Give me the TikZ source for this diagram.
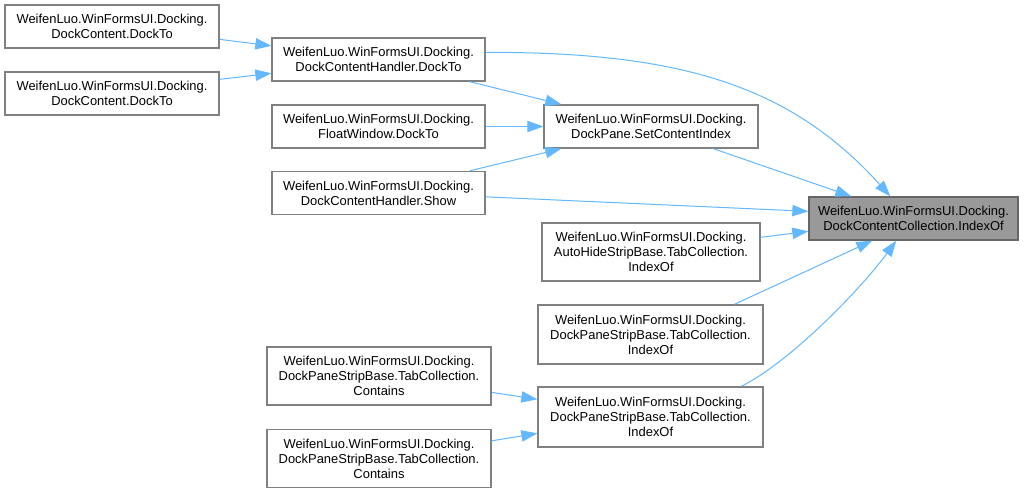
\documentclass[tikz,border=0pt]{standalone}
\usepackage{fontspec}
\setmainfont{Liberation Sans}
\usetikzlibrary{arrows.meta,calc}
\definecolor{edgeblue}{HTML}{63B8FF}
\definecolor{boxline}{HTML}{808080}
\definecolor{hitfill}{HTML}{999999}
\definecolor{hitline}{HTML}{666666}
\begin{document}
\begin{tikzpicture}[x=0.75pt,y=-0.75pt,
  fn/.style={draw=boxline, line width=1pt, fill=white, align=center,
    inner sep=0pt, text=black, font=\fontsize{9.7}{11.25}\selectfont},
  hit/.style={fn, fill=hitfill, draw=hitline},
  call/.style={draw=edgeblue, line width=0.75pt,
    -{Triangle[length=12pt,width=8.5pt]}}
]
% canvas
\fill[white] (0,0) rectangle (1030,493);
\useasboundingbox (0,0) rectangle (1030,493);

% callers, leftmost column
\node[fn, minimum width=160.5pt, minimum height=32.25pt] (A1) at (112,26.5)
  {WeifenLuo.WinFormsUI.Docking.\\DockContent.DockTo};
\node[fn, minimum width=160.5pt, minimum height=32.25pt] (A2) at (112,93.5)
  {WeifenLuo.WinFormsUI.Docking.\\DockContent.DockTo};
\node[fn, minimum width=168pt, minimum height=43.5pt] (D1) at (379,376)
  {WeifenLuo.WinFormsUI.Docking.\\DockPaneStripBase.TabCollection.\\Contains};
\node[fn, minimum width=168pt, minimum height=43.5pt] (D2) at (379,458.5)
  {WeifenLuo.WinFormsUI.Docking.\\DockPaneStripBase.TabCollection.\\Contains};

% second column
\node[fn, minimum width=159.75pt, minimum height=32.25pt] (B1) at (378.5,59.5)
  {WeifenLuo.WinFormsUI.Docking.\\DockContentHandler.DockTo};
\node[fn, minimum width=159.75pt, minimum height=32.25pt] (B2) at (378.5,126.5)
  {WeifenLuo.WinFormsUI.Docking.\\FloatWindow.DockTo};
\node[fn, minimum width=159.75pt, minimum height=32.25pt] (B3) at (378.5,193)
  {WeifenLuo.WinFormsUI.Docking.\\DockContentHandler.Show};

% third column
\node[fn, minimum width=160.5pt, minimum height=32.25pt] (C1) at (651,126.5)
  {WeifenLuo.WinFormsUI.Docking.\\DockPane.SetContentIndex};
\node[fn, minimum width=163.5pt, minimum height=43.5pt] (C2) at (651,252)
  {WeifenLuo.WinFormsUI.Docking.\\AutoHideStripBase.TabCollection.\\IndexOf};
\node[fn, minimum width=168.75pt, minimum height=44.25pt] (C3) at (650.5,334.5)
  {WeifenLuo.WinFormsUI.Docking.\\DockPaneStripBase.TabCollection.\\IndexOf};
\node[fn, minimum width=168.75pt, minimum height=45pt] (C4) at (650.5,417)
  {WeifenLuo.WinFormsUI.Docking.\\DockPaneStripBase.TabCollection.\\IndexOf};

% the called function
\node[hit, minimum width=156.75pt, minimum height=32.25pt] (T) at (913.5,218.5)
  {WeifenLuo.WinFormsUI.Docking.\\DockContentCollection.IndexOf};

% call edges
\draw[call] ($(A1.north east)+(0,35)$) -- ($(B1.north west)+(0,8.5)$);
\draw[call] ($(A2.north east)+(0,8)$) -- ($(B1.north west)+(0,36)$);
\draw[call] ($(B1.north east)+(0,15)$) .. controls (680,52) and (790,85) .. ($(T.north west)+(82,0)$);
\draw[call] ($(B1.south east)+(-16,0)$) -- ($(C1.north west)+(18,0)$);
\draw[call] (B2.east) -- (C1.west);
\draw[call] ($(B3.north east)+(-16,0)$) -- ($(C1.south west)+(18,0)$);
\draw[call] ($(B3.north east)+(0,26)$) -- ($(T.north west)+(0,15)$);
\draw[call] ($(C1.south west)+(170,0)$) -- ($(T.north west)+(43,0)$);
\draw[call] ($(C2.north east)+(0,15)$) -- ($(T.north west)+(0,35)$);
\draw[call] ($(C3.north west)+(197,0)$) -- ($(T.south west)+(64,0)$);
\draw[call] ($(C4.north west)+(204,0)$) .. controls (790,362) and (860,290) .. ($(T.south west)+(88,0)$);
\draw[call] ($(D1.north east)+(0,46)$) -- ($(C4.north west)+(0,13)$);
\draw[call] ($(D2.north east)+(0,12)$) -- ($(C4.north west)+(0,47)$);
\end{tikzpicture}
\end{document}
